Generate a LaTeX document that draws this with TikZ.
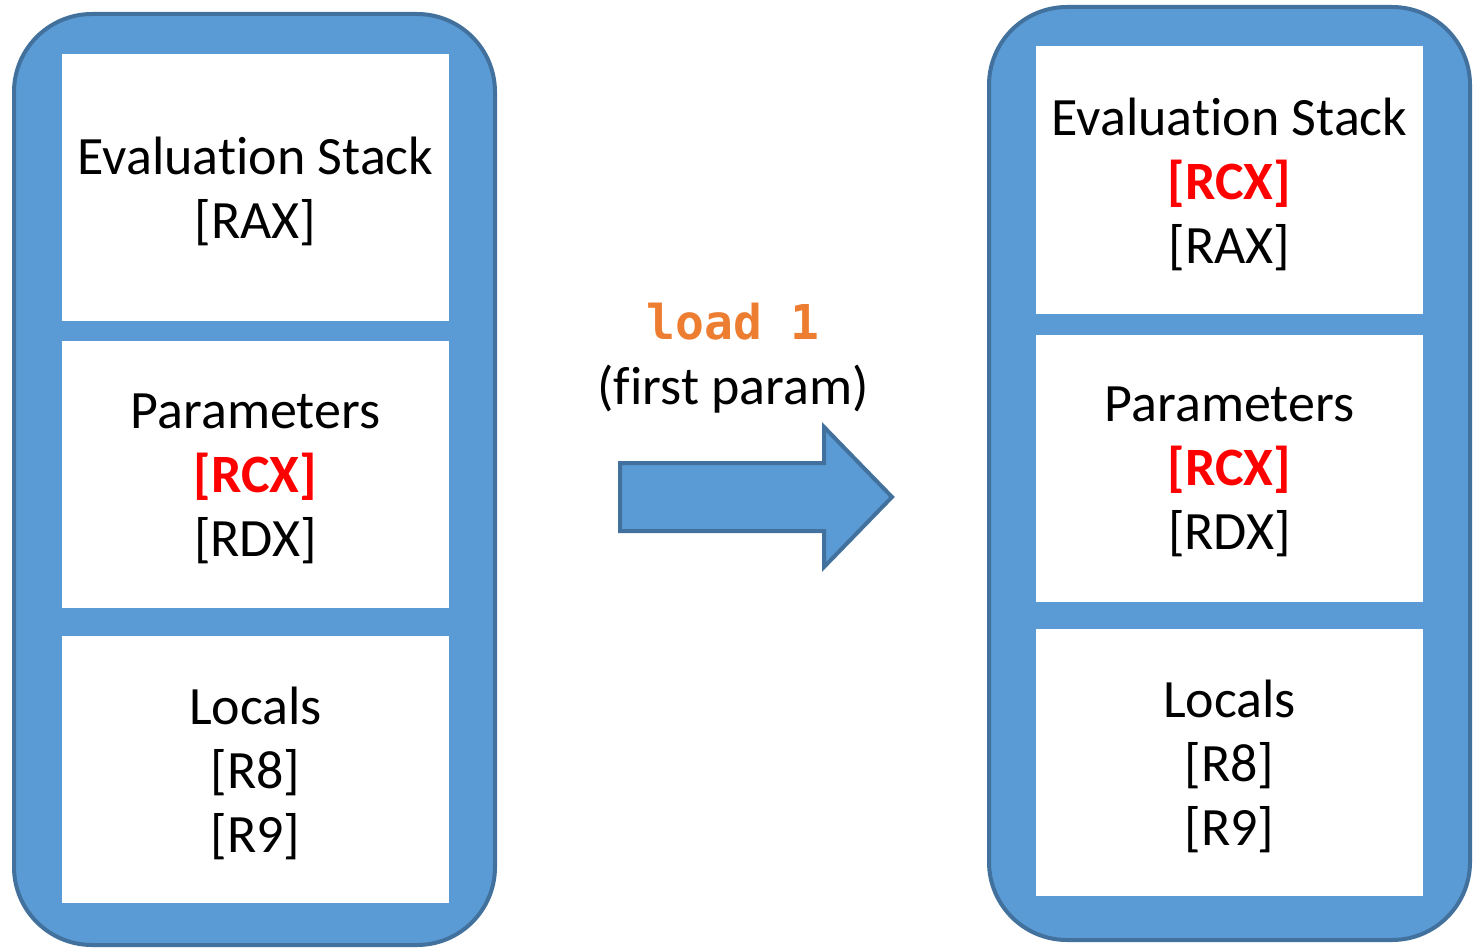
\documentclass[tikz,border=0pt]{standalone}
\usepackage{fontspec}
\setmainfont[Ligatures=NoCommon]{Carlito}
\newfontfamily\codefont{DejaVu Sans Mono}
\definecolor{frameblue}{HTML}{5B9BD5}
\definecolor{frameedge}{HTML}{41719C}
\definecolor{opcode}{HTML}{ED7D31}
\definecolor{regred}{HTML}{FF0000}
\tikzset{
  frame/.style={draw=frameedge, fill=frameblue, line width=4pt, rounded corners=78pt},
  slot/.style={fill=white, draw=none, minimum width=387pt, minimum height=267pt, inner sep=0pt},
  slottext/.style={align=center, inner sep=0pt, yshift=-4pt, font=\fontsize{54}{64}\selectfont},
  flow/.style={draw=frameedge, fill=frameblue, line width=4pt, line join=miter}
}
\newcommand{\hotreg}[1]{{\color{regred}\bfseries #1}}
\begin{document}
\begin{tikzpicture}[x=1pt, y=-1pt]
  \useasboundingbox (0,0) rectangle (1474,947);

  % left frame: register layout before the instruction
  \draw[frame] (14,14) rectangle (495,945);
  \node[slot] (lstack) at (255.5,187.5) {};
  \node[slottext] (lstacktxt) at (lstack) {Evaluation Stack\\{}[RAX]};
  \node[slot] (lparams) at (255.5,474.5) {};
  \node[slottext] (lparamstxt) at (lparams) {Parameters\\\hotreg{[RCX]}\\{}[RDX]};
  \node[slot] (llocals) at (255.5,769) {};
  \node[slottext] (llocalstxt) at (llocals) {Locals\\{}[R8]\\{}[R9]};

  % right frame: register layout after the instruction
  \draw[frame] (989,7) rectangle (1470,940);
  \node[slot] (rstack) at (1229.5,180) {};
  \node[slottext] (rstacktxt) at (rstack) {Evaluation Stack\\\hotreg{[RCX]}\\{}[RAX]};
  \node[slot] (rparams) at (1229.5,468) {};
  \node[slottext] (rparamstxt) at (rparams) {Parameters\\\hotreg{[RCX]}\\{}[RDX]};
  \node[slot] (rlocals) at (1229.5,762.5) {};
  \node[slottext] (rlocalstxt) at (rlocals) {Locals\\{}[R8]\\{}[R9]};

  % block arrow between the two frames
  \draw[flow] (620,463) -- (824,463) -- (824,427) -- (892,497) -- (824,567)
    -- (824,531) -- (620,531) -- cycle;

  % instruction caption
  \node[text=opcode, font=\codefont\bfseries\fontsize{48}{48}\selectfont] (op) at (733,322) {load 1};
  \node[font=\fontsize{54}{54}\selectfont] (note) at (733,389) {(first param)};
\end{tikzpicture}
\end{document}
